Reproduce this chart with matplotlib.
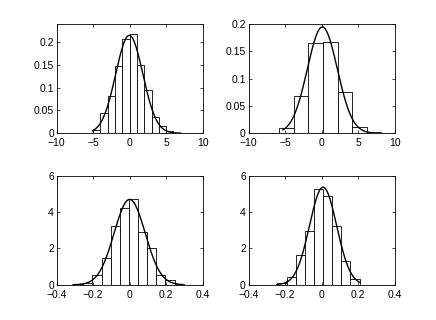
import matplotlib.pyplot as plt
import numpy as np
from matplotlib.ticker import FuncFormatter

plt.rcParams['font.family'] = ['Liberation Sans', 'DejaVu Sans']

# top left: unit bins
edges_tl = [-5, -4, -3, -2, -1, 0, 1, 2, 3, 4, 5, 6, 7]
heights_tl = [0.008, 0.0435, 0.082, 0.148, 0.207, 0.217, 0.149, 0.096, 0.035, 0.015, 0.004, 0.0015]

# top right: width 2 bins
edges_tr = [-5.8, -3.8, -1.8, 0.2, 2.2, 4.2, 6.2, 8.2]
heights_tr = [0.0098, 0.069, 0.165, 0.167, 0.0747, 0.012, 0.0025]

# bottom left
edges_bl = [-0.304, -0.254, -0.204, -0.154, -0.104, -0.054, -0.004, 0.046,
            0.096, 0.146, 0.196, 0.246, 0.296]
heights_bl = [0.03, 0.08, 0.55, 1.48, 3.22, 4.21, 4.72, 2.89, 2.03, 0.55, 0.24, 0.04]

# bottom right
edges_br = [-0.242, -0.192, -0.142, -0.092, -0.042, 0.008, 0.058, 0.108, 0.158, 0.208]
heights_br = [0.09, 0.44, 1.63, 2.93, 5.25, 4.9, 3.22, 1.32, 0.31]

# fitted normal curves: mean, sigma, drawn range
fits = [(-0.05, 1.855, -5.1, 7.0),
        (0.1, 2.05, -5.3, 7.0),
        (0.0, 0.085, -0.31, 0.29),
        (0.008, 0.0744, -0.245, 0.21)]

xlims = [(-10, 10), (-10, 10), (-0.4, 0.4), (-0.4, 0.4)]
ylims = [(0, 0.24), (0, 0.2), (0, 6), (0, 6)]
xticks = [[-10, -5, 0, 5, 10], [-10, -5, 0, 5, 10],
          [-0.4, -0.2, 0, 0.2, 0.4], [-0.4, -0.2, 0, 0.2, 0.4]]
yticks = [[0, 0.05, 0.1, 0.15, 0.2], [0, 0.05, 0.1, 0.15, 0.2],
          [0, 2, 4, 6], [0, 2, 4, 6]]

hists = [(edges_tl, heights_tl), (edges_tr, heights_tr),
         (edges_bl, heights_bl), (edges_br, heights_br)]

# MATLAB default subplot positions
positions = [[0.13, 0.5838, 0.3347, 0.3412], [0.5703, 0.5838, 0.3347, 0.3412],
             [0.13, 0.11, 0.3347, 0.3412], [0.5703, 0.11, 0.3347, 0.3412]]

fmt = FuncFormatter(lambda v, p: ('%g' % v).replace('-', '\u2212'))

fig = plt.figure(figsize=(4.36, 3.2), dpi=100)
for i in range(4):
    ax = fig.add_axes(positions[i])
    e, h = hists[i]
    e = np.array(e)
    ax.bar(e[:-1], h, width=np.diff(e), align='edge', color='white',
           edgecolor='black', linewidth=0.6)
    mu, sd, lo, hi = fits[i]
    xs = np.linspace(lo, hi, 300)
    ys = np.exp(-0.5 * ((xs - mu) / sd) ** 2) / (sd * np.sqrt(2 * np.pi))
    ax.plot(xs, ys, color='black', linewidth=1.0)
    ax.set_xlim(*xlims[i])
    ax.set_ylim(*ylims[i])
    ax.set_xticks(xticks[i])
    ax.set_yticks(yticks[i])
    ax.xaxis.set_major_formatter(fmt)
    ax.yaxis.set_major_formatter(fmt)
    ax.tick_params(direction='in', length=2, width=0.5, labelsize=7.5,
                   top=True, right=True)
    ax.tick_params(axis='x', pad=3.5)
    ax.tick_params(axis='y', pad=2)
    for s in ax.spines.values():
        s.set_linewidth(0.6)

fig.savefig('out.png', dpi=100)
